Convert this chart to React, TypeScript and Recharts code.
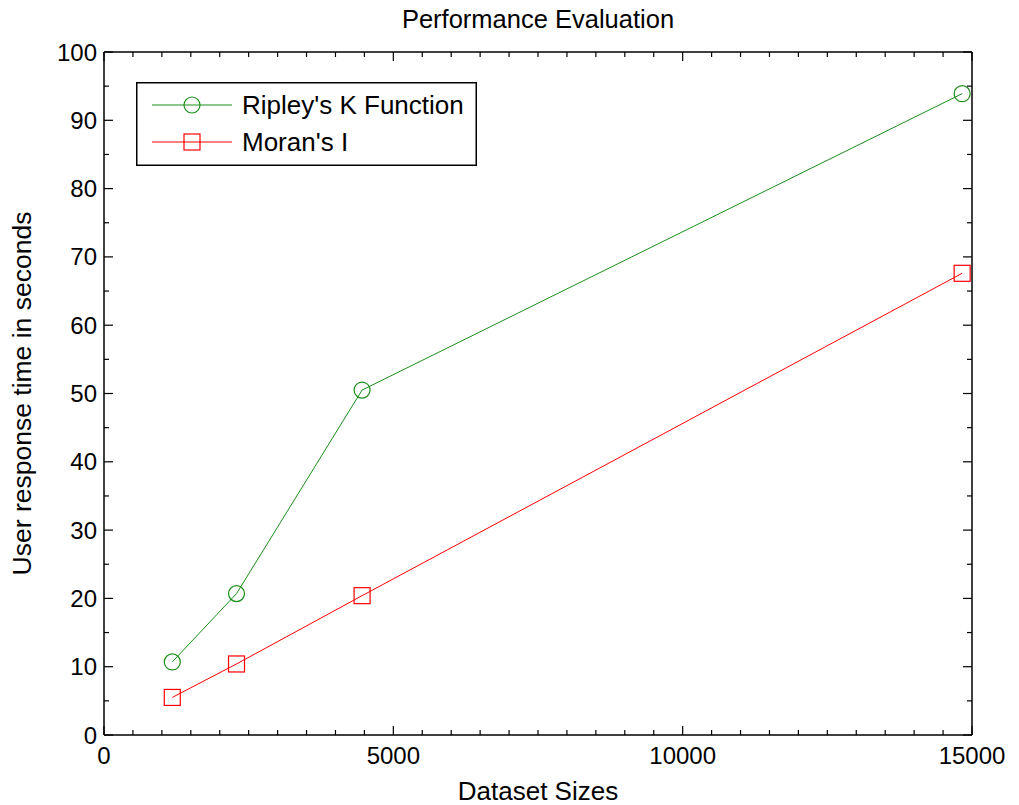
import { Legend, Line, LineChart, XAxis, YAxis } from 'recharts'

// values
const datasetSizes = [1180, 2290, 4460, 14830]
const ripleyK = [10.7, 20.7, 50.5, 93.9]
const moranI = [5.5, 10.4, 20.4, 67.6]

const xLabelTicks = [0, 5000, 10000, 15000]
const xTicks = [
	0, 500, 1000, 1500, 2000, 2500, 3000, 3500, 4000, 4500, 5000, 5500, 6000, 6500, 7000, 7500,
	8000, 8500, 9000, 9500, 10000, 10500, 11000, 11500, 12000, 12500, 13000, 13500, 14000, 14500,
	15000,
]
const yLabelTicks = [0, 10, 20, 30, 40, 50, 60, 70, 80, 90, 100]
const yTicks = [
	0, 5, 10, 15, 20, 25, 30, 35, 40, 45, 50, 55, 60, 65, 70, 75, 80, 85, 90, 95, 100,
]

const data = datasetSizes.map((size, i) => ({
	size,
	ripley: ripleyK[i],
	moran: moranI[i],
}))

const FONT = '"Liberation Sans", Arial, Helvetica, sans-serif'
const GREEN = '#1a8f1a'
const RED = '#ff0000'
const AXIS = { stroke: '#000', strokeWidth: 1.5 }
// recharts treats 0 as "use default", so keep the built-in tick offset negligible
const TINY = 0.001

function BottomTick({ x, y, payload }: any) {
	const major = xLabelTicks.includes(payload.value)
	return (
		<g>
			<line x1={x} x2={x} y1={y} y2={y - (major ? 9 : 5)} stroke="#000" strokeWidth={1.2} />
			{major && (
				<text x={x} y={y + 12} dy="0.71em" textAnchor="middle" fontSize={24} fontFamily={FONT} fill="#000">
					{payload.value}
				</text>
			)}
		</g>
	)
}

function TopTick({ x, y, payload }: any) {
	const major = xLabelTicks.includes(payload.value)
	return <line x1={x} x2={x} y1={y} y2={y + (major ? 9 : 5)} stroke="#000" strokeWidth={1.2} />
}

function LeftTick({ x, y, payload }: any) {
	const major = yLabelTicks.includes(payload.value)
	return (
		<g>
			<line x1={x} x2={x + (major ? 9 : 5)} y1={y} y2={y} stroke="#000" strokeWidth={1.2} />
			{major && (
				<text x={x - 7} y={y} dy="0.355em" textAnchor="end" fontSize={24} fontFamily={FONT} fill="#000">
					{payload.value}
				</text>
			)}
		</g>
	)
}

function RightTick({ x, y, payload }: any) {
	const major = yLabelTicks.includes(payload.value)
	return <line x1={x} x2={x - (major ? 9 : 5)} y1={y} y2={y} stroke="#000" strokeWidth={1.2} />
}

function SquareDot({ cx, cy, index }: any) {
	return (
		<rect key={`sq-${index}`} x={cx - 8} y={cy - 8} width={16} height={16} fill="none" stroke={RED} strokeWidth={1.2} />
	)
}

function LegendBox() {
	const rows = [
		{ name: "Ripley's K Function", color: GREEN, marker: 'circle' },
		{ name: "Moran's I", color: RED, marker: 'square' },
	]
	return (
		<svg width={341} height={84} style={{ display: 'block' }}>
			<rect x={0.75} y={0.75} width={339.5} height={82.5} fill="#fff" stroke="#000" strokeWidth={1.5} />
			{rows.map((r, i) => {
				const cy = 23 + i * 37
				return (
					<g key={r.name}>
						<line x1={16} x2={96} y1={cy} y2={cy} stroke={r.color} strokeWidth={1} />
						{r.marker === 'circle' ? (
							<circle cx={56} cy={cy} r={8} fill="none" stroke={r.color} strokeWidth={1.2} />
						) : (
							<rect x={48} y={cy - 8} width={16} height={16} fill="none" stroke={r.color} strokeWidth={1.2} />
						)}
						<text x={106} y={cy} dy="0.355em" fontSize={26} fontFamily={FONT} fill="#000">
							{r.name}
						</text>
					</g>
				)
			})}
		</svg>
	)
}

export default function App() {
	return (
		<div style={{ position: 'absolute', left: 0, top: 0, background: '#fff' }}>
			<LineChart
				width={1019}
				height={805}
				data={data}
				margin={{ top: 51, right: 46, bottom: 0, left: 0 }}
			>
				<XAxis
					dataKey="size"
					type="number"
					domain={[0, 15000]}
					ticks={xTicks}
					interval={0}
					height={70}
					axisLine={AXIS}
					tickLine={false}
					tickSize={TINY}
					tickMargin={TINY}
					tick={BottomTick}
					allowDataOverflow
					label={{
						value: 'Dataset Sizes',
						position: 'insideBottom',
						offset: 5,
						fontSize: 26,
						fontFamily: FONT,
						fill: '#000',
					}}
				/>
				<XAxis
					xAxisId="top"
					orientation="top"
					dataKey="size"
					type="number"
					domain={[0, 15000]}
					ticks={xTicks}
					interval={0}
					height={1}
					axisLine={AXIS}
					tickLine={false}
					tickSize={TINY}
					tickMargin={TINY}
					tick={TopTick}
					allowDataOverflow
					label={{
						value: 'Performance Evaluation',
						position: 'top',
						offset: 23,
						fontSize: 25.5,
						fontFamily: FONT,
						fill: '#000',
					}}
				/>
				<YAxis
					type="number"
					domain={[0, 100]}
					ticks={yTicks}
					interval={0}
					width={104}
					axisLine={AXIS}
					tickLine={false}
					tickSize={TINY}
					tickMargin={TINY}
					tick={LeftTick}
					allowDataOverflow
					label={{
						value: 'User response time in seconds',
						angle: -90,
						position: 'insideLeft',
						offset: 22,
						fontSize: 26.5,
						fontFamily: FONT,
						fill: '#000',
						style: { textAnchor: 'middle' },
					}}
				/>
				<YAxis
					yAxisId="right"
					orientation="right"
					type="number"
					domain={[0, 100]}
					ticks={yTicks}
					interval={0}
					width={1}
					axisLine={AXIS}
					tickLine={false}
					tickSize={TINY}
					tickMargin={TINY}
					tick={RightTick}
					allowDataOverflow
				/>
				<Legend
					layout="vertical"
					align="center"
					verticalAlign="middle"
					wrapperStyle={{ position: 'absolute', left: 136, top: 82, width: 341, height: 84 }}
					content={LegendBox}
				/>
				<Line
					name="Ripley's K Function"
					dataKey="ripley"
					stroke={GREEN}
					strokeWidth={1}
					dot={{ r: 8, fill: 'none', stroke: GREEN, strokeWidth: 1.2 }}
					activeDot={false}
					isAnimationActive={false}
				/>
				<Line
					name="Moran's I"
					dataKey="moran"
					xAxisId="top"
					yAxisId="right"
					stroke={RED}
					strokeWidth={1}
					dot={SquareDot}
					activeDot={false}
					isAnimationActive={false}
				/>
			</LineChart>
		</div>
	)
}
